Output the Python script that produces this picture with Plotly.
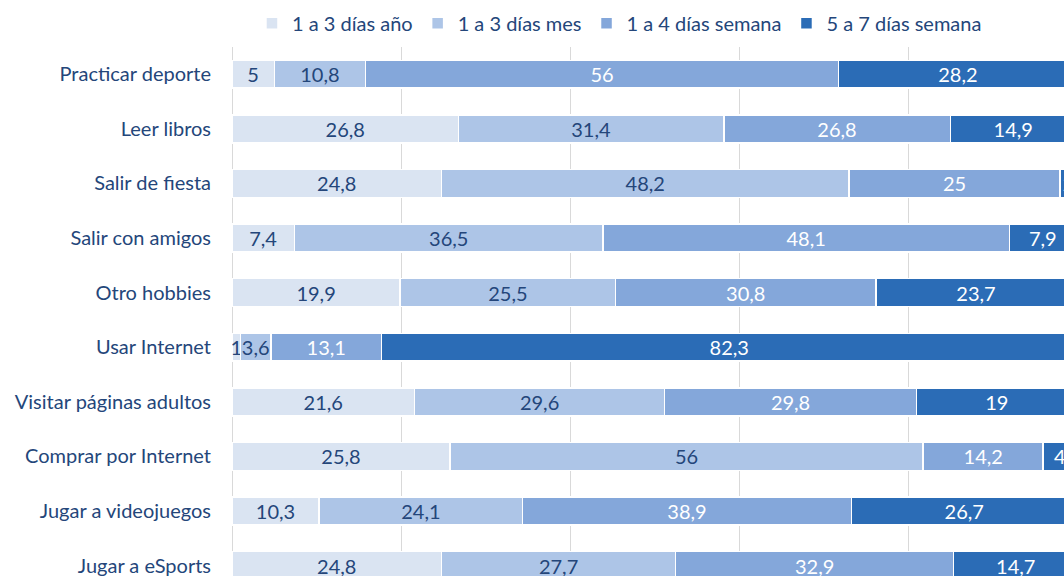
import plotly.graph_objects as go

categories = [
    "Practicar deporte", "Leer libros", "Salir de fiesta", "Salir con amigos",
    "Otro hobbies", "Usar Internet", "Visitar páginas adultos",
    "Comprar por Internet", "Jugar a videojuegos", "Jugar a eSports",
]
series_names = ["1 a 3 días año", "1 a 3 días mes", "1 a 4 días semana", "5 a 7 días semana"]

dias_anio = [5, 26.8, 24.8, 7.4, 19.9, 1, 21.6, 25.8, 10.3, 24.8]
dias_mes = [10.8, 31.4, 48.2, 36.5, 25.5, 3.6, 29.6, 56, 24.1, 27.7]
dias_semana_1_4 = [56, 26.8, 25, 48.1, 30.8, 13.1, 29.8, 14.2, 38.9, 32.9]
dias_semana_5_7 = [28.2, 14.9, 2, 7.9, 23.7, 82.3, 19, 4, 26.7, 14.7]

colors = ["#dae4f2", "#adc5e7", "#84a7da", "#2b6cb6"]
text_colors = ["#24467a", "#24467a", "#ffffff", "#ffffff"]
FONT = "Lato"

fig = go.Figure()
for name, vals, col, tcol in zip(series_names,
                                 [dias_anio, dias_mes, dias_semana_1_4, dias_semana_5_7],
                                 colors, text_colors):
    fig.add_trace(go.Bar(
        y=categories, x=vals, name=name, orientation="h",
        marker=dict(color=col, line=dict(color="white", width=1.5)),
        text=[f"{v:g}".replace(".", ",") for v in vals],
        textposition="inside", insidetextanchor="middle", textangle=0,
        textfont=dict(family=FONT, size=20, color=tcol),
    ))

# the reference is a crop: the axis runs past the right and bottom edges
fig.update_layout(
    barmode="stack",
    bargap=0.49,
    width=1064, height=576,
    margin=dict(l=232, r=0, t=47, b=0),
    plot_bgcolor="white", paper_bgcolor="white",
    font=dict(family=FONT, size=20, color="#24467a"),
    showlegend=True,
    legend=dict(
        orientation="h", x=0.024, xanchor="left", y=1.045, yanchor="middle",
        font=dict(family=FONT, size=20, color="#24467a"),
        itemwidth=30, traceorder="normal",
    ),
    uniformtext=dict(minsize=20, mode="show"),
)
fig.update_xaxes(
    range=[0, 98.46], dtick=20, showgrid=True, gridcolor="#d9d9d9", gridwidth=1,
    zeroline=True, zerolinecolor="#d9d9d9", zerolinewidth=1,
    showticklabels=False, ticks="",
)
fig.update_yaxes(
    type="category", categoryorder="array", categoryarray=categories,
    range=[9.19, -0.5], showgrid=False, ticks="",
    ticklabelstandoff=20,
    tickfont=dict(family=FONT, size=20, color="#24467a"),
)

# drop the default body margin so the figure fills the window exactly
fig.write_html("out.html",
               config={"displayModeBar": False},
               post_script="document.body.style.margin='0';document.body.style.overflow='hidden';")
